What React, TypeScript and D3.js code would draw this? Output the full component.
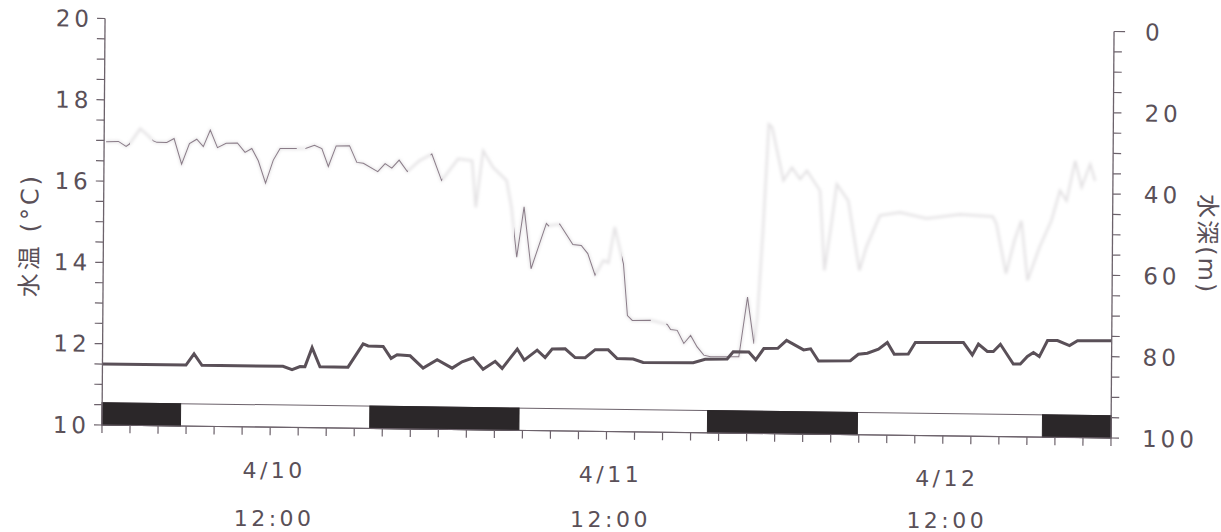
import React from "react";
import * as d3 from "d3";

// Elapsed hours from 4/10 00:00 and water temperature (°C)
const tempHours = [0, 5.96, 6.53, 7.1, 12.88, 13.53, 14.1, 14.45, 14.95, 15.52, 17.52, 18.59, 18.95, 20.02, 20.59, 21.02, 21.95, 22.88, 23.88, 24.95, 25.66, 26.45, 27.16, 28.02, 28.52, 29.59, 30.09, 31.01, 31.58, 32.08, 33.01, 33.72, 34.44, 35.15, 36.08, 36.72, 37.86, 38.58, 42.15, 43.0, 44.57, 45.0, 46.11, 46.61, 47.18, 48.18, 48.8, 50.02, 50.52, 51.09, 53.36, 53.93, 54.57, 55.36, 55.99, 56.49, 57.49, 57.99, 61.42, 62.06, 62.49, 63.13, 63.56, 64.06, 64.99, 65.49, 65.99, 66.42, 66.84, 67.42, 68.13, 68.99, 69.56, 72];
const tempValues = [11.5, 11.5, 11.78, 11.5, 11.5, 11.42, 11.5, 11.5, 11.97, 11.5, 11.5, 12.08, 12.03, 12.02, 11.73, 11.82, 11.8, 11.5, 11.71, 11.51, 11.67, 11.77, 11.49, 11.69, 11.52, 12.0, 11.73, 11.98, 11.8, 12.01, 12.02, 11.81, 11.81, 12.01, 12.01, 11.8, 11.79, 11.71, 11.72, 11.81, 11.82, 12.0, 12.0, 11.81, 12.09, 12.1, 12.3, 12.07, 12.1, 11.8, 11.82, 11.98, 12.01, 12.11, 12.28, 11.99, 12.0, 12.29, 12.3, 12.0, 12.27, 12.09, 12.09, 12.27, 11.79, 11.79, 11.98, 12.08, 11.98, 12.38, 12.38, 12.26, 12.38, 12.39];

// Elapsed hours and swimming depth (m)
const depthHours = [0.14, 1.02, 1.57, 1.81, 2.57, 3.14, 3.48, 3.76, 4.47, 4.99, 5.54, 6.09, 6.61, 7.08, 7.57, 8.09, 8.71, 9.51, 10.06, 10.54, 11.01, 11.54, 12.08, 12.56, 13.7, 14.42, 15.01, 15.54, 16.01, 16.56, 17.51, 18.04, 18.51, 19.54, 20.06, 20.54, 21.06, 21.65, 22.5, 23.39, 24.1, 25.27, 26.27, 26.55, 27.05, 27.76, 28.74, 29.1, 29.5, 30.0, 30.53, 31.6, 31.76, 32.55, 33.5, 34.1, 34.57, 35.1, 35.69, 36.05, 36.48, 37.12, 37.43, 37.78, 39.09, 40.28, 40.52, 40.99, 41.47, 41.95, 42.42, 42.9, 43.38, 45.4, 45.99, 46.47, 46.7, 47.06, 47.42, 47.66, 48.49, 49.09, 49.68, 50.16, 51.11, 51.46, 51.94, 52.3, 53.13, 53.96, 54.44, 55.39, 56.82, 58.72, 61.09, 63.45, 63.71, 64.42, 65.01, 65.49, 65.96, 66.8, 67.63, 68.23, 68.7, 69.3, 69.77, 70.37, 70.73];
const depthValues = [30.3, 30.2, 31.4, 30.8, 27.0, 28.7, 29.9, 30.3, 30.3, 29.3, 35.6, 30.5, 29.4, 31.2, 27.1, 31.4, 30.3, 30.2, 32.5, 31.5, 34.5, 40.0, 34.3, 31.4, 31.4, 31.3, 30.5, 31.3, 35.7, 30.6, 30.5, 34.6, 34.8, 36.8, 34.8, 35.9, 33.9, 36.7, 34.0, 32.3, 38.8, 33.4, 33.8, 45.3, 31.3, 35.4, 38.6, 45.2, 57.4, 45.0, 60.2, 49.0, 49.6, 49.1, 54.1, 54.3, 56.3, 61.6, 57.9, 58.5, 49.7, 58.7, 71.4, 72.6, 72.5, 73.5, 74.7, 74.9, 78.1, 76.1, 78.9, 80.9, 81.3, 81.2, 66.5, 77.9, 71.4, 50.1, 23.9, 24.7, 37.7, 34.5, 37.3, 35.2, 40.1, 59.7, 48.2, 38.4, 42.5, 59.6, 53.8, 46.0, 45.2, 46.6, 45.5, 45.9, 47.7, 59.9, 51.7, 46.8, 61.5, 53.3, 46.7, 39.3, 41.8, 31.9, 38.4, 32.7, 36.8];

// Night periods (elapsed hours)
const nightStarts = [0, 19.1, 43.2, 67.1];
const nightEnds = [5.6, 29.75, 53.9, 72];

// Spans where the depth trace printed clearly (hours)
const inkStarts = [0, 3.45, 14.35, 23.3, 29.3, 32.5, 37.0, 40.2];
const inkEnds = [1.85, 13.75, 21.7, 24.15, 31.8, 35.15, 39.1, 46.5];

// Axis labels
const dateLabels = ["4/10", "4/11", "4/12"];
const dateLabelHours = [12, 36, 60];
const timeLabel = "12:00";
const tempTicks = [10, 12, 14, 16, 18, 20];
const depthTicks = [0, 20, 40, 60, 80, 100];

const W = 1221;
const H = 532;
const X0 = 102;
const X1 = 1111;
const YB = 425;
const YT = 18.5;

const INK = "#5a5058";
const AXIS = "#6c626b";
const FONT = "'DejaVu Sans', 'Liberation Sans', 'Noto Sans CJK JP', sans-serif";

export default function App() {
  const x = d3.scaleLinear().domain([0, 72]).range([X0, X1]);
  const yT = d3.scaleLinear().domain([10, 20]).range([YB, YT]);
  const yD = d3.scaleLinear().domain([0, 100]).range([YT, YB]);

  const tempLine = d3
    .line<number>()
    .x((_, i) => x(tempHours[i]))
    .y((v) => yT(v));
  const depthLine = d3
    .line<number>()
    .x((_, i) => x(depthHours[i]))
    .y((v) => yD(v));

  const tempPath = tempLine(tempValues) || "";
  const depthPath = depthLine(depthValues) || "";

  const minorT = d3.range(10, 20.001, 0.5);
  const minorD = d3.range(0, 100.001, 5);
  const hourTicks = d3.range(0, 72.001, 2);

  // slight shear of the printed sheet, anchored at the lower-left corner of the plot
  const b = 0.0129;
  const a = -0.0075;
  const e = -a * YB;
  const f = -b * X0;

  const barTop = yT(10.55);
  const barBottom = yT(10);

  // date labels sit on the sheared baseline
  const labelShift = (h: number) => b * (x(h) - X0);

  return (
    <svg
      width={W}
      height={H}
      style={{ position: "absolute", left: 0, top: 0, background: "#fff" }}
      fontFamily={FONT}
    >
      <defs>
        <filter id="fade" x="-5%" y="-5%" width="110%" height="110%">
          <feGaussianBlur stdDeviation="1.8" />
        </filter>
        <clipPath id="inked">
          {inkStarts.map((s, i) => (
            <rect key={i} x={x(s)} y={0} width={x(inkEnds[i]) - x(s)} height={H} />
          ))}
        </clipPath>
      </defs>
      <g transform={`matrix(1,${b},${a},1,${e},${f})`}>
        {/* day / night bar */}
        <rect x={X0} y={barTop} width={X1 - X0} height={barBottom - barTop} fill="#fff" stroke={AXIS} strokeWidth={1} />
        {nightStarts.map((s, i) => (
          <rect
            key={i}
            x={x(s)}
            y={barTop}
            width={x(nightEnds[i]) - x(s)}
            height={barBottom - barTop}
            fill="#2b2729"
            stroke="#2b2729"
            strokeWidth={1}
          />
        ))}

        {/* depth trace: faint full trace, then clearly printed spans */}
        <path d={depthPath} fill="none" stroke="#e2e0e2" strokeWidth={2.2} filter="url(#fade)" />
        <path d={depthPath} fill="none" stroke="#8a7c88" strokeWidth={1} clipPath="url(#inked)" />

        {/* temperature trace */}
        <path d={tempPath} fill="none" stroke={INK} strokeWidth={3} strokeLinejoin="miter" />

        {/* left axis */}
        <line x1={X0} x2={X0} y1={yT(20)} y2={yT(10)} stroke={AXIS} strokeWidth={1.3} />
        {minorT.map((t) => (
          <line key={t} x1={X0 - 8} x2={X0} y1={yT(t)} y2={yT(t)} stroke={AXIS} strokeWidth={1.2} />
        ))}
        {tempTicks.map((t) => (
          <text key={t} x={X0 - 12} y={yT(t)} dy="0.36em" textAnchor="end" fontSize={23} letterSpacing={4} fill={INK}>
            {t}
          </text>
        ))}
        <text
          transform={`translate(28,${236}) rotate(-90)`}
          textAnchor="middle"
          dy="0.36em"
          fontSize={24}
          letterSpacing={3}
          fill={INK}
        >
          水温 (°C)
        </text>

        {/* right axis */}
        <line x1={X1} x2={X1} y1={yD(0)} y2={yD(100)} stroke={AXIS} strokeWidth={1.3} />
        {minorD.map((t) => (
          <line key={t} x1={X1} x2={X1 + (t === 0 ? 11 : 8)} y1={yD(t)} y2={yD(t)} stroke={AXIS} strokeWidth={1.2} />
        ))}
        {depthTicks.map((t) => (
          <text key={t} x={X1 + 31} y={yD(t)} dy="0.36em" textAnchor="start" fontSize={23} letterSpacing={4} fill={INK}>
            {t}
          </text>
        ))}
        <text
          transform={`translate(1206,${230}) rotate(90)`}
          textAnchor="middle"
          dy="0.36em"
          fontSize={24}
          letterSpacing={2}
          fill={INK}
        >
          水深(m)
        </text>

        {/* time axis */}
        <line x1={X0} x2={X1} y1={YB} y2={YB} stroke={AXIS} strokeWidth={1.2} />
        {hourTicks.map((h) => (
          <line key={h} x1={x(h)} x2={x(h)} y1={YB} y2={YB + 8} stroke={AXIS} strokeWidth={1.2} />
        ))}
      </g>

      {/* date / time labels under the axis */}
      {dateLabels.map((lab, i) => {
        const cx = x(dateLabelHours[i]) + 4;
        const s = labelShift(dateLabelHours[i]);
        return (
          <g key={lab}>
            <text x={cx} y={468 + s * 0.9} dy="0.36em" textAnchor="middle" fontSize={22} letterSpacing={3.5} fill={INK}>
              {lab}
            </text>
            <text x={cx} y={517 + s * 0.3} dy="0.36em" textAnchor="middle" fontSize={22} letterSpacing={3.5} fill={INK}>
              {timeLabel}
            </text>
          </g>
        );
      })}
    </svg>
  );
}
